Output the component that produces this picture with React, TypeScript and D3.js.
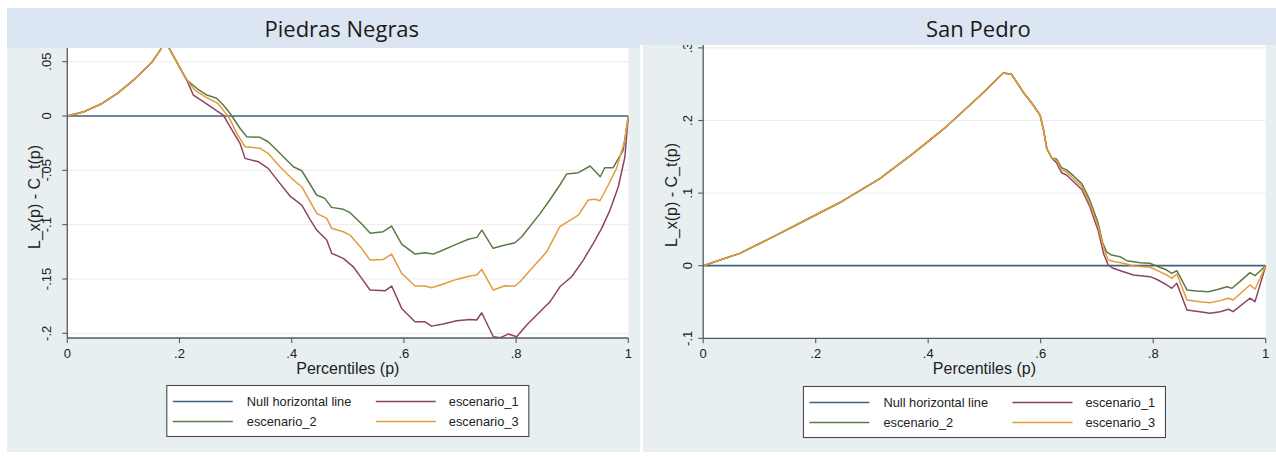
import React from 'react';
import * as d3 from 'd3';

type Pt = [number, number];

// ---------- data ----------
const xTicks = [0, 0.2, 0.4, 0.6, 0.8, 1];
const pnYTicks = [0.05, 0, -0.05, -0.1, -0.15, -0.2];
const spYTicks = [0.3, 0.2, 0.1, 0, -0.1];
const legendLabels = ['Null horizontal line', 'escenario_1', 'escenario_2', 'escenario_3'];
const nullLine: Pt[] = [[0, 0], [1, 0]];

// Piedras Negras: common segment, then each scenario
const pnShared: Pt[] = [
  [0, 0], [0.03, 0.004], [0.06, 0.011], [0.09, 0.021], [0.12, 0.034], [0.15, 0.049],
  [0.165, 0.06], [0.174, 0.07], [0.183, 0.061], [0.2, 0.045], [0.213, 0.033],
];
const pnEsc1: Pt[] = [
  [0.2246, 0.0193], [0.2424, 0.0132], [0.26, 0.0071], [0.278, 0.0009], [0.29, -0.0098],
  [0.3078, -0.0251], [0.3168, -0.039], [0.3405, -0.0421], [0.358, -0.0482], [0.379, -0.062],
  [0.397, -0.0737], [0.418, -0.082], [0.4326, -0.0951], [0.4446, -0.105], [0.4624, -0.1142],
  [0.4713, -0.1264], [0.492, -0.131], [0.5098, -0.1388], [0.5248, -0.1494], [0.5396, -0.1602],
  [0.5663, -0.1609], [0.5782, -0.1565], [0.596, -0.1771], [0.6197, -0.1894], [0.6376, -0.1894],
  [0.6495, -0.1934], [0.67, -0.1915], [0.694, -0.1885], [0.7178, -0.1872], [0.7298, -0.1878],
  [0.7387, -0.1811], [0.7594, -0.2032], [0.7718, -0.204], [0.786, -0.2007], [0.801, -0.2032],
  [0.819, -0.1924], [0.8426, -0.1802], [0.8604, -0.171], [0.878, -0.1572], [0.899, -0.148],
  [0.9198, -0.1326], [0.9376, -0.1172], [0.9525, -0.1034], [0.9674, -0.0866], [0.9822, -0.0651],
  [0.994, -0.0375], [1, 0],
];
const pnEsc2: Pt[] = [
  [0.2307, 0.0255], [0.2485, 0.0193], [0.2663, 0.0163], [0.278, 0.0101], [0.29, 0.0025],
  [0.3078, -0.0113], [0.3198, -0.0191], [0.3435, -0.0196], [0.358, -0.0237], [0.379, -0.0343],
  [0.403, -0.0467], [0.418, -0.0504], [0.43, -0.0605], [0.4445, -0.0727], [0.459, -0.0758],
  [0.471, -0.0841], [0.492, -0.0859], [0.504, -0.089], [0.525, -0.0994], [0.54, -0.108],
  [0.563, -0.1065], [0.578, -0.1013], [0.596, -0.1179], [0.62, -0.1271], [0.638, -0.1259],
  [0.652, -0.1271], [0.667, -0.124], [0.694, -0.1179], [0.715, -0.1135], [0.73, -0.1117],
  [0.739, -0.105], [0.759, -0.1218], [0.78, -0.1188], [0.798, -0.1167], [0.81, -0.1111],
  [0.843, -0.0896], [0.86, -0.0773], [0.878, -0.0635], [0.89, -0.0534], [0.911, -0.0522],
  [0.932, -0.046], [0.95, -0.0559], [0.958, -0.0476], [0.973, -0.0476], [0.991, -0.0313], [1, 0],
];
const pnEsc3: Pt[] = [
  [0.227, 0.024], [0.245, 0.0178], [0.268, 0.0117], [0.28, 0.004], [0.289, -0.002],
  [0.302, -0.016], [0.3168, -0.0283], [0.3435, -0.0297], [0.358, -0.0343], [0.379, -0.0467],
  [0.403, -0.0589], [0.418, -0.0651], [0.4296, -0.0758], [0.4446, -0.0896], [0.4624, -0.0942],
  [0.4713, -0.1034], [0.492, -0.1065], [0.504, -0.1096], [0.5248, -0.1219], [0.5396, -0.1326],
  [0.5633, -0.132], [0.5782, -0.1271], [0.596, -0.1448], [0.6197, -0.1565], [0.6376, -0.1565],
  [0.6495, -0.1581], [0.67, -0.1547], [0.694, -0.1504], [0.7178, -0.1473], [0.7298, -0.1464],
  [0.7387, -0.1412], [0.7594, -0.1602], [0.78, -0.1563], [0.798, -0.1565], [0.807, -0.1526],
  [0.8307, -0.1388], [0.8545, -0.125], [0.878, -0.1019], [0.911, -0.0912], [0.9287, -0.0773],
  [0.9406, -0.0767], [0.9495, -0.078], [0.9643, -0.0635], [0.979, -0.0482], [0.994, -0.0221], [1, 0],
];

// San Pedro: common segment, then each scenario
const spShared: Pt[] = [
  [0, 0], [0.065, 0.017], [0.125, 0.04], [0.185, 0.064], [0.243, 0.087], [0.314, 0.12],
  [0.374, 0.155], [0.433, 0.192], [0.492, 0.234], [0.5335, 0.2655], [0.548, 0.2637],
  [0.569, 0.239], [0.587, 0.221], [0.599, 0.207], [0.605, 0.187], [0.611, 0.161], [0.62, 0.148],
];
const spEsc1: Pt[] = [
  [0.628, 0.142], [0.637, 0.128], [0.646, 0.125], [0.658, 0.116], [0.673, 0.105], [0.687, 0.082],
  [0.702, 0.049], [0.712, 0.016], [0.72, 0.001], [0.729, -0.0036], [0.747, -0.0083],
  [0.765, -0.0128], [0.794, -0.0151], [0.806, -0.0187], [0.824, -0.0265], [0.833, -0.0311],
  [0.842, -0.0242], [0.86, -0.061], [0.883, -0.0633], [0.901, -0.0655], [0.919, -0.0633],
  [0.934, -0.06], [0.942, -0.0633], [0.972, -0.0448], [0.981, -0.0495], [1, 0],
];
const spEsc2: Pt[] = [
  [0.628, 0.147], [0.637, 0.135], [0.646, 0.132], [0.658, 0.124], [0.673, 0.113], [0.687, 0.091],
  [0.702, 0.059], [0.71, 0.032], [0.717, 0.019], [0.726, 0.0147], [0.741, 0.0124],
  [0.753, 0.0069], [0.777, 0.0041], [0.794, 0.0033], [0.806, -0.0004], [0.824, -0.006],
  [0.833, -0.0105], [0.842, -0.0069], [0.86, -0.0334], [0.877, -0.0348], [0.898, -0.0358],
  [0.916, -0.0325], [0.931, -0.0289], [0.94, -0.0311], [0.954, -0.022], [0.972, -0.0096],
  [0.981, -0.0138], [1, 0],
];
const spEsc3: Pt[] = [
  [0.628, 0.145], [0.637, 0.132], [0.646, 0.129], [0.658, 0.12], [0.673, 0.109], [0.687, 0.086],
  [0.702, 0.054], [0.712, 0.024], [0.72, 0.0078], [0.732, 0.0055], [0.747, 0.0033],
  [0.765, -0.0004], [0.794, -0.0022], [0.806, -0.006], [0.824, -0.0128], [0.833, -0.0174],
  [0.842, -0.0114], [0.86, -0.0472], [0.883, -0.0495], [0.901, -0.0509], [0.919, -0.0481],
  [0.934, -0.0449], [0.942, -0.0472], [0.972, -0.0265], [0.981, -0.0325], [1, 0],
];

// ---------- styling ----------
const COLORS = {
  nullLine: '#3f6282',
  esc1: '#8c4560',
  esc2: '#5a7b43',
  esc3: '#e59b3c',
  axis: '#555a5e',
  grid: '#ececec',
  graphBg: '#e8eff1',
  band: '#dbe6f2',
};
const AXIS_FONT = '"Liberation Sans", Arial, Helvetica, sans-serif';
const TITLE_FONT = '"Open Sans", "Noto Sans", sans-serif';

const stataNum = (v: number) =>
  v === 0 ? '0' : (v < 0 ? '-' : '') + String(+Math.abs(v).toFixed(3)).replace(/^0/, '');

interface PanelLayout {
  bg: { x: number; y: number; w: number; h: number };
  band: { x: number; y: number; w: number; h: number };
  plotTop: number;
  plotBottom: number;
  x0: number;
  x1: number;
  yRef: [number, number]; // two data values
  yPix: [number, number]; // their pixel rows
  yLabelX: number;
  yTitleX: number;
  yTitleY: number;
  legendY: number;
}

interface PanelProps {
  id: string;
  title: string;
  layout: PanelLayout;
  yTicks: number[];
  shared: Pt[];
  esc1: Pt[];
  esc2: Pt[];
  esc3: Pt[];
}

function Panel({ id, title, layout, yTicks, shared, esc1, esc2, esc3 }: PanelProps) {
  const L = layout;
  const x = d3.scaleLinear().domain([0, 1]).range([L.x0, L.x1]);
  const y = d3.scaleLinear().domain(L.yRef).range(L.yPix);
  const line = d3
    .line<Pt>()
    .x((d) => x(d[0]))
    .y((d) => y(d[1]));

  const series = [
    { key: 'null', pts: nullLine, color: COLORS.nullLine },
    { key: 'e1', pts: [...shared, ...esc1], color: COLORS.esc1 },
    { key: 'e2', pts: [...shared, ...esc2], color: COLORS.esc2 },
    { key: 'e3', pts: [...shared, ...esc3], color: COLORS.esc3 },
  ];
  const legendColors = [COLORS.nullLine, COLORS.esc1, COLORS.esc2, COLORS.esc3];

  const cx = (L.x0 + L.x1) / 2;
  const legW = 362;
  const legH = 51;
  const legX = cx - legW / 2;

  return (
    <g>
      <rect x={L.bg.x} y={L.bg.y} width={L.bg.w} height={L.bg.h} fill={COLORS.graphBg} />
      <rect x={L.x0} y={L.plotTop} width={L.x1 - L.x0} height={L.plotBottom - L.plotTop} fill="#fff" />
      <clipPath id={`clip-${id}`}>
        <rect x={L.x0} y={L.plotTop} width={L.x1 - L.x0 + 1} height={L.plotBottom - L.plotTop} />
      </clipPath>
      {/* gridlines */}
      {yTicks.map((t) => (
        <line key={`g${t}`} x1={L.x0} x2={L.x1} y1={y(t)} y2={y(t)} stroke={COLORS.grid} strokeWidth={1} />
      ))}
      {/* series */}
      <g clipPath={`url(#clip-${id})`}>
        {series.map((s) => (
          <path
            key={s.key}
            d={line(s.pts) || ''}
            fill="none"
            stroke={s.color}
            strokeWidth={s.key === 'null' ? 1.7 : 1.5}
            strokeLinejoin="round"
          />
        ))}
      </g>
      {/* y axis */}
      <line x1={L.x0} x2={L.x0} y1={L.plotTop} y2={L.plotBottom} stroke={COLORS.axis} strokeWidth={1.3} />
      {yTicks.map((t) => (
        <g key={`y${t}`}>
          <line x1={L.x0 - 5} x2={L.x0} y1={y(t)} y2={y(t)} stroke={COLORS.axis} strokeWidth={1.1} />
          <text
            transform={`translate(${L.yLabelX},${y(t)}) rotate(-90)`}
            textAnchor="middle"
            fontFamily={AXIS_FONT}
            fontSize={13}
            fill="#222"
          >
            {stataNum(t)}
          </text>
        </g>
      ))}
      <text
        transform={`translate(${L.yTitleX},${L.yTitleY}) rotate(-90)`}
        textAnchor="middle"
        fontFamily={AXIS_FONT}
        fontSize={16}
        fill="#222"
      >
        L_x(p) - C_t(p)
      </text>
      {/* x axis */}
      <line x1={L.x0} x2={L.x1} y1={L.plotBottom} y2={L.plotBottom} stroke={COLORS.axis} strokeWidth={1.3} />
      {xTicks.map((t) => (
        <g key={`x${t}`}>
          <line x1={x(t)} x2={x(t)} y1={L.plotBottom} y2={L.plotBottom + 5} stroke={COLORS.axis} strokeWidth={1.1} />
          <text x={x(t)} y={L.plotBottom + 20} textAnchor="middle" fontFamily={AXIS_FONT} fontSize={13} fill="#222">
            {stataNum(t)}
          </text>
        </g>
      ))}
      <text x={cx} y={L.plotBottom + 36} textAnchor="middle" fontFamily={AXIS_FONT} fontSize={16} fill="#222">
        Percentiles (p)
      </text>
      {/* legend */}
      <rect x={legX} y={L.legendY} width={legW} height={legH} fill="#fff" stroke="#4a4a4a" strokeWidth={1.1} />
      {legendLabels.map((lab, i) => {
        const col = i % 2;
        const row = Math.floor(i / 2);
        const ly = L.legendY + 16 + row * 20;
        const lx = legX + (col === 0 ? 6 : 209);
        const tx = legX + (col === 0 ? 80 : 282);
        return (
          <g key={lab}>
            <line x1={lx} x2={lx + 60} y1={ly} y2={ly} stroke={legendColors[i]} strokeWidth={1.5} />
            <text x={tx} y={ly + 4.5} fontFamily={AXIS_FONT} fontSize={12.8} fill="#222">
              {lab}
            </text>
          </g>
        );
      })}
      {/* title band */}
      <rect x={L.band.x} y={L.band.y} width={L.band.w} height={L.band.h} fill={COLORS.band} />
      <text
        x={cx - 6}
        y={L.band.y + 29}
        textAnchor="middle"
        fontFamily={TITLE_FONT}
        fontSize={22}
        fill="#1a1a1a"
      >
        {title}
      </text>
    </g>
  );
}

const leftLayout: PanelLayout = {
  bg: { x: 7, y: 48, w: 633, h: 404 },
  band: { x: 7, y: 8, w: 633, h: 40 },
  plotTop: 48,
  plotBottom: 338,
  x0: 67.3,
  x1: 628.3,
  yRef: [0, -0.2],
  yPix: [116, 333.3],
  yLabelX: 51,
  yTitleX: 40,
  yTitleY: 197,
  legendY: 385.5,
};

const rightLayout: PanelLayout = {
  bg: { x: 643, y: 45, w: 633, h: 407 },
  band: { x: 640, y: 8, w: 636, h: 37 },
  plotTop: 45,
  plotBottom: 338.3,
  x0: 703.2,
  x1: 1265.7,
  yRef: [0, -0.1],
  yPix: [265.7, 338.3],
  yLabelX: 692,
  yTitleX: 677,
  yTitleY: 195,
  legendY: 386.5,
};

export default function App() {
  return (
    <svg
      width={1276}
      height={456}
      viewBox="0 0 1276 456"
      style={{ position: 'absolute', left: 0, top: 0, background: '#fff' }}
    >
      <Panel
        id="pn"
        title="Piedras Negras"
        layout={leftLayout}
        yTicks={pnYTicks}
        shared={pnShared}
        esc1={pnEsc1}
        esc2={pnEsc2}
        esc3={pnEsc3}
      />
      <Panel
        id="sp"
        title="San Pedro"
        layout={rightLayout}
        yTicks={spYTicks}
        shared={spShared}
        esc1={spEsc1}
        esc2={spEsc2}
        esc3={spEsc3}
      />
    </svg>
  );
}
